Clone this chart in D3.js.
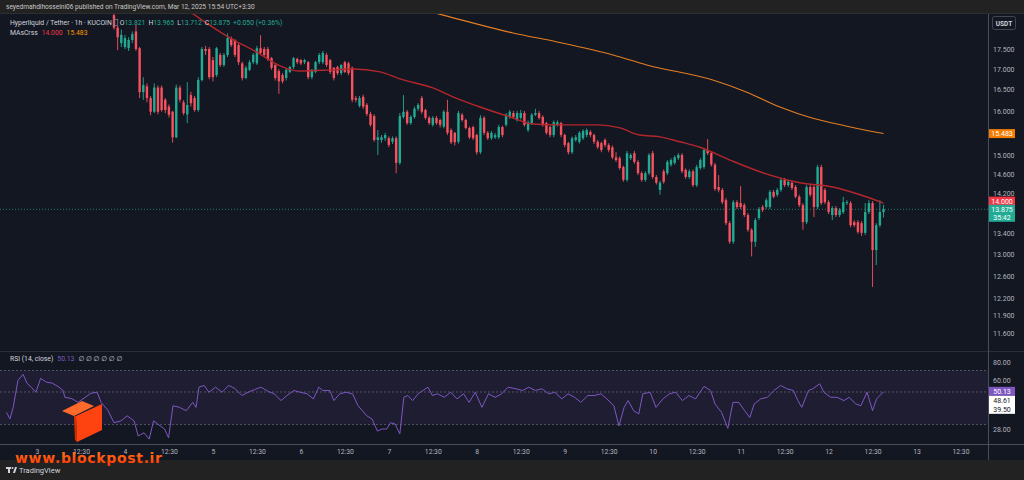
<!DOCTYPE html>
<html>
<head>
<meta charset="utf-8">
<script src="https://cdn.jsdelivr.net/npm/d3@7"></script>
<style>
  body { margin: 0; background: #222; }
  svg { display: block; font-family: Roboto, "DejaVu Sans", sans-serif; }
</style>
</head>
<body>
<svg id="chart" width="1024" height="480"></svg>
<script>
// hours are counted from day "3" 00:30 (local time of the publisher)
var firstCandleHour = 21;

// [open, high, low, close], one per hour
var ohlc = [
  [18.38,18.45,18.00,18.05],[18.05,18.10,17.47,17.80],[17.65,18.00,17.55,17.86],[17.55,17.86,17.50,17.78],
  [17.52,17.80,17.45,17.73],[17.73,17.95,17.65,17.88],[17.95,18.12,17.45,17.50],[17.52,17.55,16.30,16.44],
  [16.44,16.80,16.26,16.61],[16.58,16.65,16.20,16.30],[16.30,16.35,15.90,15.98],[15.98,16.65,15.95,16.55],
  [16.55,16.60,15.92,15.98],[16.55,16.60,15.98,16.02],[16.26,16.30,15.95,16.02],[16.10,16.15,15.85,15.91],
  [15.98,16.00,15.28,15.40],[15.40,16.62,15.38,16.55],[16.55,16.60,16.20,16.26],[16.20,16.25,15.90,15.95],
  [15.92,16.68,15.72,16.14],[16.37,16.45,16.10,16.18],[16.30,16.35,15.98,16.02],[16.02,16.80,15.98,16.73],
  [16.73,17.55,16.70,17.50],[17.50,17.58,17.35,17.45],[17.50,17.55,16.75,16.80],[17.22,17.30,16.70,16.80],
  [16.85,17.55,16.80,17.52],[17.35,17.40,17.05,17.10],[17.10,17.40,17.05,17.35],[17.35,17.90,17.30,17.78],
  [17.78,17.82,17.55,17.60],[17.73,17.75,17.30,17.35],[17.60,17.65,17.10,17.17],[17.14,17.18,16.72,16.78],
  [16.78,17.08,16.75,17.03],[16.98,17.22,16.95,17.17],[17.17,17.40,17.12,17.35],[17.14,17.58,17.10,17.52],
  [17.52,17.85,17.35,17.40],[17.50,17.55,17.30,17.35],[17.50,17.55,17.20,17.25],[17.27,17.30,16.98,17.03],
  [17.10,17.12,16.72,16.78],[16.95,17.00,16.40,16.70],[16.85,16.90,16.65,16.70],[16.78,17.02,16.72,16.98],
  [16.93,17.08,16.90,17.05],[17.05,17.30,17.00,17.27],[17.25,17.28,17.12,17.17],[17.22,17.25,17.10,17.14],
  [17.17,17.25,17.12,17.22],[17.17,17.20,16.75,16.80],[16.80,17.00,16.75,16.98],[16.93,17.20,16.90,17.17],
  [17.17,17.40,17.12,17.35],[17.17,17.45,17.12,17.40],[17.35,17.40,17.05,17.10],[17.22,17.25,16.88,16.93],
  [17.03,17.05,16.72,16.78],[17.05,17.08,16.85,16.90],[16.90,17.12,16.85,17.10],[17.17,17.20,16.90,16.93],
  [17.14,17.18,16.85,16.90],[17.03,17.06,16.20,16.26],[16.30,16.35,16.20,16.26],[16.12,16.35,16.08,16.30],
  [16.33,16.38,16.05,16.10],[16.14,16.18,15.88,15.93],[15.93,15.98,15.64,15.68],[15.88,15.92,15.30,15.34],
  [15.34,15.56,15.01,15.40],[15.34,15.45,15.28,15.40],[15.38,15.50,15.32,15.45],[15.38,15.42,15.18,15.23],
  [15.30,15.42,15.25,15.38],[15.38,15.42,14.62,14.84],[14.84,15.95,14.80,15.88],[15.86,16.37,15.82,15.98],
  [15.98,16.02,15.68,15.72],[15.72,15.90,15.68,15.86],[15.86,16.10,15.82,16.05],[16.05,16.18,16.00,16.14],
  [16.30,16.35,15.93,15.98],[16.02,16.05,15.80,15.84],[15.84,15.88,15.68,15.72],[15.68,15.88,15.64,15.84],
  [15.84,15.88,15.68,15.72],[15.79,15.82,15.62,15.68],[15.64,16.02,15.60,15.98],[15.98,16.26,15.45,15.50],
  [15.56,15.60,15.25,15.29],[15.50,15.52,15.22,15.29],[15.30,16.00,15.26,15.95],[15.91,15.95,15.75,15.79],
  [15.79,15.82,15.58,15.61],[15.61,15.64,15.36,15.40],[15.63,15.66,15.34,15.38],[15.45,15.48,15.02,15.07],
  [15.07,15.90,15.03,15.84],[15.84,15.88,15.45,15.50],[15.50,15.54,15.34,15.38],[15.38,15.54,15.34,15.50],
  [15.40,15.50,15.36,15.45],[15.40,15.68,15.36,15.63],[15.63,15.66,15.40,15.45],[15.68,15.95,15.64,15.91],
  [15.86,16.02,15.82,15.98],[15.95,16.00,15.82,15.86],[15.79,16.00,15.75,15.95],[15.84,16.02,15.80,15.95],
  [15.95,16.00,15.64,15.68],[15.56,15.78,15.52,15.74],[15.72,15.95,15.68,15.91],[15.91,16.05,15.88,15.95],
  [15.95,16.00,15.80,15.84],[15.86,15.90,15.64,15.68],[15.72,15.75,15.46,15.50],[15.63,15.66,15.40,15.45],
  [15.45,15.78,15.40,15.74],[15.68,15.78,15.64,15.74],[15.72,15.75,15.40,15.45],[15.45,15.48,15.18,15.23],
  [15.27,15.30,15.02,15.07],[15.07,15.42,15.03,15.38],[15.34,15.45,15.30,15.40],[15.30,15.54,15.26,15.50],
  [15.38,15.58,15.34,15.54],[15.45,15.60,15.40,15.56],[15.52,15.56,15.40,15.45],[15.45,15.48,15.25,15.30],
  [15.30,15.34,15.14,15.18],[15.27,15.30,15.07,15.12],[15.34,15.38,15.18,15.23],[15.23,15.27,15.07,15.12],
  [15.18,15.22,14.92,14.96],[14.96,15.07,14.86,14.90],[14.94,14.98,14.69,14.73],[14.75,14.78,14.44,14.48],
  [14.48,15.10,14.44,15.05],[14.94,15.05,14.90,15.01],[15.05,15.10,14.82,14.86],[14.86,14.90,14.58,14.62],
  [14.62,14.66,14.44,14.48],[14.48,14.66,14.44,14.62],[14.62,15.05,14.58,15.01],[15.05,15.10,14.50,14.54],
  [14.54,14.58,14.38,14.42],[14.27,14.46,14.17,14.42],[14.66,14.70,14.40,14.44],[14.62,14.90,14.58,14.86],
  [14.80,14.94,14.76,14.90],[14.84,15.00,14.80,14.96],[14.94,15.05,14.90,15.01],[15.01,15.05,14.62,14.66],
  [14.69,14.72,14.50,14.54],[14.54,14.70,14.50,14.66],[14.66,14.70,14.33,14.37],[14.37,14.80,14.33,14.75],
  [14.73,14.94,14.69,14.90],[14.75,15.16,14.71,15.12],[15.12,15.36,15.01,15.05],[15.05,15.08,14.76,14.80],
  [14.80,14.84,14.25,14.29],[14.33,14.58,14.22,14.27],[14.27,14.31,13.98,14.02],[14.06,14.10,13.56,13.60],
  [13.60,13.64,13.20,13.24],[13.24,14.06,13.20,14.02],[14.02,14.06,13.88,13.92],[14.00,14.35,13.88,13.92],
  [13.96,14.00,13.72,13.76],[13.76,13.80,13.43,13.47],[13.47,13.50,12.96,13.24],[13.24,13.70,13.14,13.66],
  [13.70,13.92,13.66,13.88],[13.92,13.96,13.82,13.86],[13.92,14.10,13.88,14.06],[13.92,14.27,13.88,14.23],
  [14.23,14.27,14.10,14.13],[14.17,14.31,14.13,14.27],[14.27,14.52,14.23,14.48],[14.48,14.52,14.33,14.37],
  [14.37,14.48,14.33,14.44],[14.42,14.46,14.27,14.31],[14.33,14.37,14.10,14.13],[14.13,14.17,13.92,13.96],
  [13.96,14.00,13.47,13.62],[13.62,14.37,13.58,14.33],[14.33,14.37,14.13,14.17],[14.33,14.37,13.72,13.92],
  [13.92,14.80,13.88,14.75],[14.75,14.80,13.96,14.00],[14.27,14.31,13.98,14.02],[14.02,14.06,13.78,13.82],
  [13.76,13.94,13.66,13.90],[13.90,13.94,13.72,13.76],[13.76,13.90,13.72,13.86],[13.82,14.13,13.78,14.02],
  [14.00,14.06,13.96,14.02],[14.00,14.04,13.52,13.56],[13.62,13.66,13.52,13.56],[13.62,13.66,13.39,13.43],
  [13.60,13.64,13.35,13.41],[13.41,14.00,13.37,13.82],[13.82,14.06,13.78,14.00],[14.00,14.04,12.40,13.08],
  [13.08,13.60,12.80,13.56],[13.56,14.06,13.52,13.82],[13.821,13.965,13.712,13.875]
];

// moving averages
var maFastHour = [39.0,42.6,52.7,60.0,66.3,71.8,80.8,86.2,93.6,99.0,108.0,113.5,120.9,129.1,135.3,142.7,152.8,159.1,164.5,170.0,175.4,180.9,189.1,197.3,208.2,217.2,224.6,231];
var maFastValue = [18.65,18.41,17.78,17.42,17.08,16.95,16.98,17.00,16.93,16.76,16.54,16.33,16.09,15.86,15.70,15.68,15.68,15.61,15.45,15.41,15.30,15.18,14.90,14.65,14.42,14.33,14.17,14.00];
var maSlowHour = [99.0,110.8,129.9,141.9,157.2,166.4,184.4,193.7,202.7,211.7,221.0,231];
var maSlowValue = [18.68,18.38,17.91,17.68,17.35,17.10,16.73,16.44,16.09,15.83,15.65,15.483];

// RSI (14, close)
var rsiHour = [-8.3,-7.4,-6.5,-5.2,-3.8,-2.7,-1.6,-0.3,1.0,2.5,4.1,6.0,7.1,7.6,9.5,11.2,14.7,16.4,17.5,19.4,
  21.0,22.9,24.6,26.5,27.6,29.2,30.6,31.8,33.6,34.8,35.9,37.1,38.9,40.7,42.5,43.4,44.2,45.6,46.9,48.7,
  50.5,52.3,54.0,55.9,57.6,59.4,61.1,63.0,64.7,66.6,68.2,70.1,71.8,73.7,75.4,76.9,78.0,79.9,81.0,82.6,
  84.3,86.1,87.6,88.8,90.0,91.4,92.9,94.1,95.4,96.5,97.7,99.0,100.1,101.2,102.5,104.0,105.3,106.7,107.9,109.3,
  111.1,112.9,114.6,116.4,117.9,119.6,121.4,123.2,125.0,126.8,128.5,130.7,132.5,134.2,136.0,137.8,139.6,141.3,143.2,144.9,
  146.7,148.4,150.3,152.0,153.9,155.5,157.4,158.8,160.2,161.3,162.8,164.2,165.3,167.3,168.9,170.8,172.6,174.3,176.1,177.9,
  179.7,182.0,183.8,185.0,186.8,188.5,189.9,191.5,193.1,194.5,195.7,197.5,199.3,201.1,202.9,204.6,206.4,207.6,208.7,210.5,
  211.7,213.6,214.7,216.6,218.3,220.2,221.6,223.4,224.8,226.5,228.0,229.1,231];
var rsiValue = [36.3,32.8,39.3,60.0,66.0,57.2,53.9,49.8,61.9,58.4,57.5,53.9,51.2,46.0,45.1,42.5,49.0,49.8,42.5,37.3,
  30.9,31.8,34.4,31.8,25.1,26.4,23.9,31.8,29.4,28.0,24.4,40.3,39.3,37.3,42.5,39.3,53.9,55.4,49.8,53.9,
  49.8,55.4,52.8,47.3,49.8,52.0,53.9,50.6,48.6,43.7,47.3,51.2,49.8,48.6,44.9,53.9,51.2,51.2,43.7,48.6,
  49.8,48.6,40.3,37.3,34.4,32.8,27.1,28.0,28.0,30.9,30.3,25.9,46.0,47.3,43.7,48.6,51.2,53.9,47.3,48.6,
  46.0,49.8,44.9,48.6,42.5,49.8,39.3,48.6,46.0,48.6,53.9,52.6,51.2,53.9,51.2,52.6,48.6,49.8,44.9,48.6,
  46.0,42.5,47.3,47.3,48.6,44.9,40.3,29.4,39.3,43.7,37.3,35.4,48.6,49.8,39.3,44.9,48.6,49.8,43.7,47.3,
  44.9,54.6,51.2,41.5,36.3,28.3,42.5,42.5,37.3,33.5,41.5,44.9,46.0,51.2,55.4,52.6,51.2,43.7,39.3,51.2,
  52.6,56.9,49.8,46.0,46.0,43.7,46.0,41.5,40.3,49.8,37.3,44.9,50.13];

var timeTickHour = [0,12,24,36,48,60,72,84,96,108,120,132,144,156,168,180,192,204,216,228,240,252];
var timeTickLabel = ["3","12:30","4","12:30","5","12:30","6","12:30","7","12:30","8","12:30",
  "9","12:30","10","12:30","11","12:30","12","12:30","13","12:30"];
var priceTicks = [17.5,17,16.5,16,15,14.6,14.2,13.4,13,12.6,12.2,11.9,11.6];
var rsiTicks = [80,60,28];
var rsiBands = [70,50,30];

var lastClose = 13.875, maFastLast = 14.000, maSlowLast = 15.483;
var rsiLast = 50.13, rsiExtra = [48.61, 39.50];

var upColor = "#22ab94", downColor = "#f7525f";
var textColor = "#d1d4dc", axisText = "#b2b5be";

var svg = d3.select("#chart");
var W = 1024, H = 480;
var plotRight = 988, paneTop = 14, paneBottom = 351, rsiTop = 352, rsiBottom = 444, axisBottomY = 460;

// scales
var x = d3.scaleLinear().domain([-10.1, 259.5]).range([0, plotRight]);
var y = d3.scaleLog().domain([11.6, 17.5]).range([333, 49]);
var yR = d3.scaleLog().domain([28, 80]).range([429, 362]);

// frame
svg.append("rect").attr("width", W).attr("height", H).attr("fill", "#222222");
svg.append("rect").attr("x", 0).attr("y", paneTop).attr("width", W).attr("height", axisBottomY - paneTop).attr("fill", "#131722");

var defs = svg.append("defs");
defs.append("clipPath").attr("id", "clipPrice").append("rect")
  .attr("x", 0).attr("y", paneTop).attr("width", plotRight).attr("height", paneBottom - paneTop);
defs.append("clipPath").attr("id", "clipRsi").append("rect")
  .attr("x", 0).attr("y", rsiTop).attr("width", plotRight).attr("height", rsiBottom - rsiTop);
var grad = defs.append("linearGradient").attr("id", "wm").attr("x1", 0).attr("x2", 0).attr("y1", 0).attr("y2", 1);
grad.append("stop").attr("offset", "0%").attr("stop-color", "#ff7a1a");
grad.append("stop").attr("offset", "100%").attr("stop-color", "#ff3300");

// header
svg.append("text").attr("x", 6).attr("y", 9).attr("fill", "#c8c8c8").attr("font-size", 6.6)
  .text("seyedmahdihosseini06 published on TradingView.com, Mar 12, 2025 15:54 UTC+3:30");
svg.append("line").attr("x1", 0).attr("x2", W).attr("y1", paneTop - 0.5).attr("y2", paneTop - 0.5).attr("stroke", "#2e2e2e");

// pane separators
svg.append("line").attr("x1", 0).attr("x2", W).attr("y1", paneBottom + 0.5).attr("y2", paneBottom + 0.5).attr("stroke", "#2a2e39");
svg.append("line").attr("x1", 0).attr("x2", W).attr("y1", rsiBottom + 0.5).attr("y2", rsiBottom + 0.5).attr("stroke", "#4a4e59");
svg.append("line").attr("x1", plotRight + 0.5).attr("x2", plotRight + 0.5).attr("y1", paneTop).attr("y2", axisBottomY).attr("stroke", "#4a4e59");

// price pane
var pg = svg.append("g").attr("clip-path", "url(#clipPrice)");

pg.append("line").attr("x1", 0).attr("x2", plotRight).attr("y1", y(lastClose)).attr("y2", y(lastClose))
  .attr("stroke", upColor).attr("stroke-opacity", 0.7).attr("stroke-dasharray", "1,2");

var candles = ohlc.map(function (d, i) {
  return { h: firstCandleHour + i, o: d[0], hi: d[1], lo: d[2], c: d[3] };
});
var bodyW = 2.4;

pg.selectAll("line.wick").data(candles).enter().append("line")
  .attr("class", "wick")
  .attr("x1", function (d) { return x(d.h); })
  .attr("x2", function (d) { return x(d.h); })
  .attr("y1", function (d) { return y(d.hi); })
  .attr("y2", function (d) { return y(d.lo); })
  .attr("stroke", function (d) { return d.c >= d.o ? upColor : downColor; })
  .attr("stroke-width", 0.9);

pg.selectAll("rect.body").data(candles).enter().append("rect")
  .attr("class", "body")
  .attr("x", function (d) { return x(d.h) - bodyW / 2; })
  .attr("y", function (d) { return Math.min(y(d.o), y(d.c)); })
  .attr("width", bodyW)
  .attr("height", function (d) { return Math.max(1, Math.abs(y(d.o) - y(d.c))); })
  .attr("fill", function (d) { return d.c >= d.o ? upColor : downColor; });

var maLine = d3.line().curve(d3.curveMonotoneX)
  .x(function (d) { return x(d[0]); })
  .y(function (d) { return y(d[1]); });

pg.append("path").datum(d3.zip(maFastHour, maFastValue)).attr("d", maLine)
  .attr("fill", "none").attr("stroke", "#b3262c").attr("stroke-width", 1.4);
pg.append("path").datum(d3.zip(maSlowHour, maSlowValue)).attr("d", maLine)
  .attr("fill", "none").attr("stroke", "#e67e22").attr("stroke-width", 1.1);

// legend
var leg1 = svg.append("text").attr("x", 10).attr("y", 25).attr("font-size", 6.8).attr("fill", textColor);
var symbolSpan = leg1.append("tspan").text("Hyperliquid / Tether · 1h · KUCOIN");
leg1.append("tspan").attr("dx", 8).text("O");
leg1.append("tspan").attr("fill", upColor).text("13.821");
leg1.append("tspan").attr("dx", 3).text("H");
leg1.append("tspan").attr("fill", upColor).text("13.965");
leg1.append("tspan").attr("dx", 3).text("L");
leg1.append("tspan").attr("fill", upColor).text("13.712");
leg1.append("tspan").attr("dx", 3).text("C");
leg1.append("tspan").attr("fill", upColor).text("13.875");
leg1.append("tspan").attr("dx", 3).attr("fill", upColor).text("+0.050 (+0.36%)");
var symbolEnd = 10 + symbolSpan.node().getComputedTextLength();
svg.append("rect").attr("x", symbolEnd + 2).attr("y", 19.5).attr("width", 4).attr("height", 6).attr("fill", "none")
  .attr("stroke", "#787b86").attr("stroke-width", 0.8);

var leg2 = svg.append("text").attr("x", 10).attr("y", 35).attr("font-size", 6.8).attr("fill", textColor);
leg2.append("tspan").text("MAsCrss");
leg2.append("tspan").attr("dx", 4).attr("fill", "#f23645").text(d3.format(".3f")(maFastLast));
leg2.append("tspan").attr("dx", 4).attr("fill", "#ff9800").text(d3.format(".3f")(maSlowLast));

// RSI pane
var rg = svg.append("g").attr("clip-path", "url(#clipRsi)");
rg.append("rect").attr("x", 0).attr("width", plotRight)
  .attr("y", yR(70)).attr("height", yR(30) - yR(70))
  .attr("fill", "#7e57c2").attr("fill-opacity", 0.1);
rg.selectAll("line.band").data(rsiBands).enter().append("line")
  .attr("x1", 0).attr("x2", plotRight)
  .attr("y1", function (d) { return yR(d); }).attr("y2", function (d) { return yR(d); })
  .attr("stroke", "#787b86").attr("stroke-opacity", 0.6).attr("stroke-dasharray", "2,2");

var rsiLine = d3.line()
  .x(function (d) { return x(d[0]); })
  .y(function (d) { return yR(d[1]); });
rg.append("path").datum(d3.zip(rsiHour, rsiValue)).attr("d", rsiLine)
  .attr("fill", "none").attr("stroke", "#7e57c2").attr("stroke-width", 1);

var leg3 = svg.append("text").attr("x", 10).attr("y", 361).attr("font-size", 6.8).attr("fill", textColor);
leg3.append("tspan").text("RSI (14, close)");
leg3.append("tspan").attr("dx", 4).attr("fill", "#7e57c2").text(d3.format(".2f")(rsiLast));
leg3.append("tspan").attr("dx", 4).text("∅ ∅ ∅ ∅ ∅ ∅");

// right price axis
var yAxis = d3.axisRight(y).tickValues(priceTicks).tickFormat(d3.format(".3f")).tickSize(0).tickPadding(5);
var ya = svg.append("g").attr("transform", "translate(" + plotRight + ",0)").call(yAxis);
ya.select(".domain").remove();
ya.attr("font-family", null).attr("font-size", 7);
ya.selectAll("text").attr("fill", axisText);

var rAxis = d3.axisRight(yR).tickValues(rsiTicks).tickFormat(d3.format(".2f")).tickSize(0).tickPadding(5);
var ra = svg.append("g").attr("transform", "translate(" + plotRight + ",0)").call(rAxis);
ra.select(".domain").remove();
ra.attr("font-family", null).attr("font-size", 7);
ra.selectAll("text").attr("fill", axisText);

// price labels on the axis
function axisLabel(cy, h, bg, fg, lines) {
  svg.append("rect").attr("x", plotRight + 1).attr("y", cy - h / 2).attr("width", 26).attr("height", h)
    .attr("fill", bg);
  lines.forEach(function (t, i) {
    svg.append("text").attr("x", plotRight + 14).attr("y", cy - h / 2 + 7 + i * 8)
      .attr("text-anchor", "middle").attr("font-size", 7).attr("fill", fg).text(t);
  });
}
axisLabel(y(maSlowLast), 9, "#f57c00", "#ffffff", [d3.format(".3f")(maSlowLast)]);
axisLabel(y(maFastLast) - 2, 9, "#f23645", "#ffffff", [d3.format(".3f")(maFastLast)]);
axisLabel(y(lastClose) + 4, 17, "#22ab94", "#ffffff", [d3.format(".3f")(lastClose), "35:42"]);

axisLabel(yR(rsiLast) - 0.5, 9, "#7e57c2", "#ffffff", [d3.format(".2f")(rsiLast)]);
svg.append("rect").attr("x", plotRight + 1).attr("y", yR(rsiLast) + 4).attr("width", 26).attr("height", 18).attr("fill", "#ffffff");
rsiExtra.forEach(function (v, i) {
  svg.append("text").attr("x", plotRight + 14).attr("y", yR(rsiLast) + 11 + i * 9)
    .attr("text-anchor", "middle").attr("font-size", 7).attr("fill", "#131722").text(d3.format(".2f")(v));
});

// USDT badge
svg.append("rect").attr("x", 992.5).attr("y", 16.5).attr("width", 23).attr("height", 13).attr("rx", 2)
  .attr("fill", "#131722").attr("stroke", "#434651");
svg.append("text").attr("x", 1004).attr("y", 25.5).attr("text-anchor", "middle").attr("font-size", 6.5)
  .attr("font-weight", "bold").attr("fill", textColor).text("USDT");

// time axis
var xAxis = d3.axisBottom(x).tickValues(timeTickHour)
  .tickFormat(function (d, i) { return timeTickLabel[i]; }).tickSize(0).tickPadding(5);
var xa = svg.append("g").attr("transform", "translate(0," + rsiBottom + ")").call(xAxis);
xa.select(".domain").remove();
xa.attr("font-family", null).attr("font-size", 6.8);
xa.selectAll("text").attr("fill", axisText);

// watermark logo
var logo = svg.append("g");
logo.append("polygon").attr("points", "62,411 82,401 94,406 74,416").attr("fill", "#ff6a2a");
logo.append("polygon").attr("points", "76,416 102,404 102,430 77,442").attr("fill", "#ff4310");
logo.append("polygon").attr("points", "74,416 76,416 77,442 75,440").attr("fill", "#d93200");
svg.append("text").attr("x", 15).attr("y", 463).attr("font-size", 14).attr("font-weight", "bold")
  .attr("font-family", "DejaVu Sans").attr("textLength", 147).attr("fill", "url(#wm)")
  .text("www.blockpost.ir");

// TradingView footer
var tv = svg.append("g").attr("fill", "#d1d4dc");
tv.append("rect").attr("x", 6).attr("y", 467).attr("width", 5).attr("height", 2);
tv.append("rect").attr("x", 8).attr("y", 467).attr("width", 2).attr("height", 6);
tv.append("circle").attr("cx", 12.5).attr("cy", 468).attr("r", 1);
tv.append("polygon").attr("points", "13,473 15,467 17,467 15,473");
svg.append("text").attr("x", 19).attr("y", 473).attr("font-size", 7.5).attr("fill", "#d1d4dc").text("TradingView");
</script>
</body>
</html>
